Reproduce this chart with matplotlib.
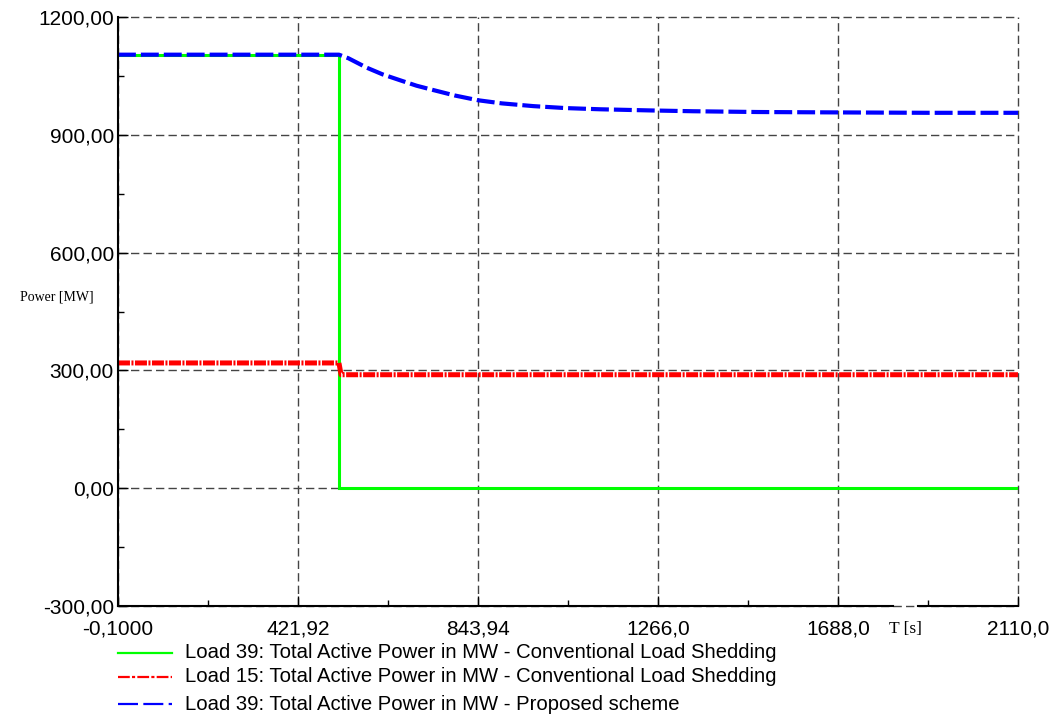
import numpy as np
import matplotlib
matplotlib.use('Agg')
from matplotlib import pyplot as plt
from matplotlib.lines import Line2D

# time axis [s] and load power [MW]
t_conv39 = [-0.1, 518.0, 518.0, 2110.0]
p_conv39 = [1104.0, 1104.0, 0.0, 0.0]

t_conv15 = [-0.1, 518.0, 523.0, 2110.0]
p_conv15 = [319.0, 319.0, 289.0, 289.0]

t_prop39 = [-0.1, 518.0, 540.0, 583.0, 620.0, 661.0, 700.0, 739.0, 790.0, 843.94,
            900.0, 974.0, 1050.0, 1130.0, 1250.0, 1348.0, 1500.0, 1688.0, 1900.0, 2110.0]
p_prop39 = [1104.0, 1104.0, 1095.0, 1071.0, 1054.0, 1039.0, 1025.0, 1014.0, 1000.0, 988.0,
            980.0, 973.0, 968.0, 965.0, 962.0, 960.0, 958.0, 957.0, 956.0, 956.0]

labels = ['Load 39: Total Active Power in MW - Conventional Load Shedding',
          'Load 15: Total Active Power in MW - Conventional Load Shedding',
          'Load 39: Total Active Power in MW - Proposed scheme']

x_ticks = [-0.1, 421.92, 843.94, 1266.0, 1688.0, 2110.0]
x_ticklabels = ['-0,1000', '421,92', '843,94', '1266,0', '1688,0', '2110,0']
y_ticks = [-300, 0, 300, 600, 900, 1200]
y_ticklabels = ['-300,00', '0,00', '300,00', '600,00', '900,00', '1200,00']

plt.rcParams['font.family'] = ['Liberation Sans', 'DejaVu Sans']

fig = plt.figure(figsize=(10.57, 7.2), dpi=100)
ax = fig.add_axes([0.1116, 0.1583, 0.8515, 0.8181])

l1, = ax.plot(t_conv39, p_conv39, color='#00ff00', lw=2.2, solid_joinstyle='miter')
l2, = ax.plot(t_conv15, p_conv15, color='#ff0000', lw=3.6, ls=(0, (2.4, 0.3, 0.4, 0.3)))
l3, = ax.plot(t_prop39, p_prop39, color='#0000ff', lw=3.0, ls=(0, (4.3, 1.2)))

ax.set_xlim(-0.1, 2110.0)
ax.set_ylim(-300, 1200)
ax.set_xticks(x_ticks)
ax.set_xticklabels(x_ticklabels)
ax.set_yticks(y_ticks)
ax.set_yticklabels(y_ticklabels)
ax.set_xticks([(a + b) / 2 for a, b in zip(x_ticks[:-1], x_ticks[1:])], minor=True)
ax.set_yticks([v + 150 for v in y_ticks[:-1]], minor=True)

ax.tick_params(which='major', direction='in', length=7, width=1.0, labelsize=15)
ax.tick_params(axis='x', which='major', pad=10)
ax.tick_params(axis='y', which='major', pad=3)
ax.tick_params(which='minor', direction='in', length=4, width=1.0)

ax.grid(True, which='major', color='#444444', ls=(0, (6, 3)), lw=1.0)
ax.set_axisbelow(True)
for g in ax.xaxis.get_gridlines() + ax.yaxis.get_gridlines():
    g.set_clip_on(False)

for s in ['top', 'right', 'bottom']:
    ax.spines[s].set_visible(False)
ax.spines['left'].set_linewidth(1.5)

# bottom axis line, interrupted where the time unit sits
ax.plot([0, 0.861], [0, 0], color='black', lw=1.5, transform=ax.transAxes, clip_on=False)
ax.plot([0.889, 1.0], [0, 0], color='black', lw=1.5, transform=ax.transAxes, clip_on=False)

fig.text(905 / 1057, 1 - 629 / 720, 'T [s]', family='Liberation Serif', fontsize=12.5,
         ha='center', va='center')
fig.text(57 / 1057, 1 - 297 / 720, 'Power [MW]', family='Liberation Serif', fontsize=10,
         ha='center', va='center')

# legend below the plot
leg_y = [653, 677, 704]
leg_styles = ['-', (0, (5.3, 1.0, 1.4, 1.0)), (0, (9.0, 2.4))]
for line, lab, y, st in zip([l1, l2, l3], labels, leg_y, leg_styles):
    yf = 1 - y / 720
    fig.add_artist(Line2D([118 / 1057, 172 / 1057], [yf, yf], color=line.get_color(),
                          lw=1.6, ls=st))
    fig.text(185 / 1057, yf, lab, fontsize=14.6, ha='left', va='center')

plt.savefig('out.png', dpi=100)
